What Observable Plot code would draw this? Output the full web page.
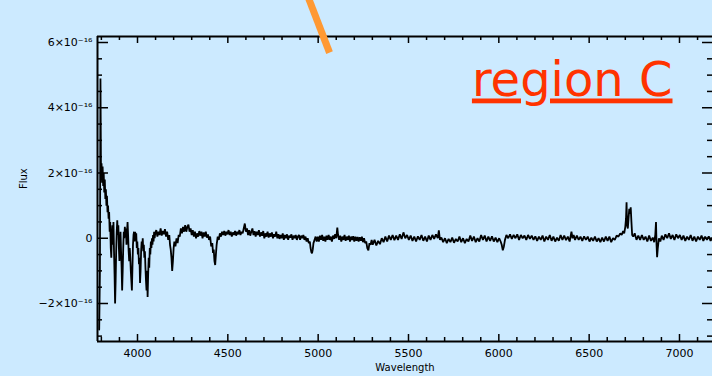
<!DOCTYPE html>
<html><head><meta charset="utf-8">
<script src="https://cdn.jsdelivr.net/npm/d3@7"></script>
<script src="https://cdn.jsdelivr.net/npm/@observablehq/plot@0.6"></script>
<style>
html,body{margin:0;padding:0;background:#cceaff;overflow:hidden;}
#chart{width:712px;height:376px;}
svg{display:block;}
</style></head><body><div id="chart"></div>
<script>
// Spectrum: [wavelength (Å), flux in units of 1e-16]
const blueEnd = [[3788,-2.8],[3792,-1.0],[3795,4.9],[3798,2.0],[3801,2.3],[3804,1.7],[3807,2.2],[3810,1.6],[3813,2.0],[3816,1.4],[3819,1.8],[3822,1.2],[3825,1.5],[3828,1.0],[3831,1.3],[3834,0.8],[3837,1.0],[3840,0.6],[3843,0.8],[3846,0.2],[3849,0.5],[3852,-0.3],[3855,-0.6],[3858,0.1],[3861,0.4],[3864,-0.2],[3867,0.5],[3870,-0.4],[3873,-1.1],[3876,-2.0],[3879,-1.3],[3882,-0.4],[3885,0.2],[3888,0.55],[3891,0.1],[3894,0.4],[3897,-0.3],[3900,-0.7],[3903,-0.2],[3906,0.2],[3909,-0.4],[3912,-0.9],[3915,-1.6],[3918,-1.0],[3921,-0.3],[3924,0.2],[3927,0.0],[3930,0.35],[3933,0.1],[3936,0.3],[3939,-0.2],[3942,0.2],[3945,0.5],[3948,0.1],[3951,-0.4],[3954,-0.7],[3957,-0.3],[3960,-0.6],[3963,-1.0],[3966,-1.3],[3969,-1.6],[3972,-0.9],[3975,-0.2],[3978,0.1],[3981,0.2],[3984,-0.1],[3987,0.2],[3990,0.0],[3993,0.15],[3996,-0.3],[3999,-0.1],[4002,-0.5],[4005,-0.3],[4008,-0.8],[4011,-0.6],[4014,-1.37],[4017,-1.0],[4020,-0.4],[4023,-0.1],[4026,-0.3],[4029,0.0],[4032,-0.4],[4035,-0.2],[4038,-0.6],[4041,-0.4],[4044,-0.9],[4047,-1.3],[4050,-1.6],[4053,-1.0],[4056,-1.8],[4059,-1.1],[4062,-0.6],[4065,-0.9],[4068,-0.3],[4071,-0.5],[4074,-0.1],[4077,-0.3],[4080,0.0],[4083,-0.2],[4086,0.1],[4089,-0.1],[4092,0.2],[4095,0.0],[4098,0.15]];
const midRange = [[4104,0.25],[4110,0.05],[4116,0.2],[4122,0.1],[4128,0.3],[4134,0.08],[4140,0.22],[4146,0.12],[4152,0.28],[4158,0.05],[4164,0.2],[4170,-0.05],[4176,0.1],[4180,-0.2],[4184,-0.35],[4188,-0.6],[4192,-1.0],[4196,-0.7],[4200,-0.3],[4204,-0.1],[4210,-0.25],[4216,0.0],[4222,-0.15],[4228,0.1],[4234,0.05],[4240,0.3],[4246,0.15],[4252,0.35],[4258,0.2],[4264,0.4],[4270,0.2],[4276,0.35],[4282,0.42],[4288,0.2],[4294,0.3],[4300,0.1],[4306,0.25],[4312,0.05],[4318,0.2],[4324,0.0],[4330,0.15],[4336,0.05],[4342,0.22],[4348,0.08],[4354,0.2],[4360,0.0],[4366,0.18],[4372,0.05],[4378,0.2],[4384,0.02],[4390,0.12],[4396,-0.05],[4402,0.05],[4408,-0.25],[4414,-0.15],[4418,-0.45],[4422,-0.35],[4426,-0.7],[4430,-0.82],[4434,-0.5],[4438,-0.2],[4444,0.05],[4450,-0.05],[4456,0.15],[4462,0.05],[4468,0.2],[4474,0.1],[4480,0.22],[4486,0.08],[4492,0.2],[4498,0.12],[4504,0.25],[4510,0.1],[4516,0.2],[4522,0.05],[4528,0.18],[4534,0.1],[4540,0.22],[4546,0.08],[4552,0.2],[4558,0.12],[4564,0.25],[4570,0.1],[4576,0.2],[4582,0.15],[4588,0.3],[4594,0.45],[4600,0.2],[4606,0.3],[4612,0.1],[4618,0.25],[4624,0.08],[4630,0.2],[4636,0.3],[4642,0.1],[4648,0.22],[4654,0.05],[4660,0.2],[4666,0.1],[4672,0.25],[4678,0.05],[4684,0.18],[4690,0.08],[4696,0.22],[4702,0.0],[4708,0.15],[4714,0.05],[4720,0.2],[4726,0.02],[4732,0.15],[4738,0.05],[4744,0.18],[4750,0.0],[4756,0.12],[4762,0.05],[4768,0.2],[4774,0.0],[4780,0.12],[4786,-0.02],[4792,0.1],[4798,0.0],[4804,0.15],[4810,-0.05],[4816,0.1],[4822,0.0],[4828,0.12],[4834,-0.05],[4840,0.08],[4846,0.02],[4852,0.12],[4858,-0.05],[4864,0.08],[4870,0.0],[4876,0.1],[4882,-0.05],[4888,0.05],[4894,0.1],[4900,-0.05],[4906,0.08],[4912,0.0],[4918,0.1],[4924,-0.05],[4930,0.05],[4936,-0.1],[4942,0.0],[4948,-0.15],[4954,-0.1],[4958,-0.3],[4962,-0.42],[4966,-0.46],[4970,-0.35],[4974,-0.15],[4980,-0.05],[4986,0.05],[4992,-0.1],[4998,0.05],[5004,-0.1],[5010,0.08],[5016,-0.05],[5022,0.1],[5028,-0.08],[5034,0.05],[5040,-0.1],[5046,0.08],[5052,-0.05],[5058,0.1],[5064,-0.05],[5070,0.05],[5076,-0.1],[5082,0.08],[5088,-0.02],[5094,0.12],[5100,0.0],[5106,0.33],[5110,0.1],[5116,-0.05],[5122,0.08],[5128,-0.1],[5134,0.05],[5140,-0.05],[5146,0.1],[5152,-0.08],[5158,0.05],[5164,-0.05],[5170,0.08],[5176,-0.1],[5182,0.05],[5188,-0.05],[5194,0.06],[5200,-0.1],[5206,0.05],[5212,-0.08],[5218,0.04],[5224,-0.1],[5230,0.03],[5236,-0.08],[5242,0.05],[5248,-0.12],[5254,0.0],[5260,-0.15],[5266,-0.1],[5272,-0.3],[5278,-0.37],[5284,-0.15],[5290,-0.2],[5296,-0.05]];
const redEnd = [[5302,-0.2],[5312,-0.05],[5322,-0.22],[5332,-0.08],[5342,-0.18],[5352,0.0],[5362,-0.12],[5372,0.05],[5382,-0.1],[5392,0.08],[5402,-0.05],[5412,0.1],[5422,-0.06],[5432,0.08],[5442,-0.05],[5452,0.12],[5462,-0.02],[5472,0.18],[5482,0.0],[5492,0.1],[5502,-0.05],[5512,0.08],[5522,-0.08],[5532,0.05],[5542,-0.1],[5552,0.06],[5562,-0.05],[5572,0.1],[5582,-0.08],[5592,0.05],[5602,-0.1],[5612,0.08],[5622,-0.05],[5632,0.1],[5642,-0.02],[5652,0.12],[5662,0.0],[5668,0.24],[5674,-0.05],[5682,0.02],[5692,-0.12],[5702,0.0],[5712,-0.15],[5722,-0.02],[5732,-0.12],[5742,0.02],[5752,-0.14],[5762,-0.02],[5772,-0.1],[5782,0.05],[5792,-0.12],[5802,0.0],[5812,-0.15],[5822,-0.02],[5832,-0.1],[5842,0.08],[5852,-0.08],[5862,0.05],[5872,-0.12],[5882,0.0],[5892,-0.1],[5902,0.1],[5912,-0.05],[5922,0.08],[5932,-0.1],[5942,0.05],[5952,-0.08],[5962,0.06],[5972,-0.1],[5982,0.02],[5992,-0.12],[6002,0.0],[6010,-0.1],[6016,-0.2],[6022,-0.37],[6028,-0.25],[6034,-0.05],[6042,0.1],[6052,0.0],[6062,0.12],[6072,-0.02],[6082,0.1],[6092,0.0],[6102,0.12],[6112,-0.05],[6122,0.1],[6132,0.0],[6142,0.08],[6152,-0.05],[6162,0.1],[6172,-0.02],[6182,0.08],[6192,-0.05],[6202,0.06],[6212,-0.08],[6222,0.05],[6232,-0.05],[6242,0.08],[6252,-0.1],[6262,0.05],[6272,-0.05],[6282,0.1],[6292,-0.08],[6302,0.05],[6312,-0.1],[6322,0.02],[6332,-0.08],[6342,0.1],[6352,-0.05],[6362,0.08],[6372,-0.06],[6382,0.05],[6392,-0.1],[6402,0.2],[6408,0.0],[6414,0.1],[6422,-0.05],[6432,0.08],[6442,-0.05],[6452,0.05],[6462,-0.08],[6472,0.06],[6482,-0.05],[6492,0.05],[6502,-0.1],[6512,0.02],[6522,-0.08],[6532,0.05],[6542,-0.1],[6552,0.0],[6562,-0.12],[6572,0.02],[6582,-0.1],[6592,0.05],[6602,-0.08],[6612,0.05],[6622,-0.12],[6632,0.0],[6642,-0.05],[6652,0.08],[6662,0.05],[6672,0.15],[6680,0.1],[6688,0.22],[6694,0.15],[6700,0.35],[6704,0.6],[6707,1.1],[6710,0.4],[6714,0.3],[6718,0.6],[6722,0.9],[6726,0.75],[6730,0.95],[6734,0.5],[6738,0.1],[6744,0.05],[6752,0.15],[6762,-0.05],[6772,0.08],[6782,-0.05],[6792,0.1],[6802,-0.05],[6812,0.05],[6822,-0.1],[6832,0.08],[6842,-0.08],[6852,0.02],[6860,-0.12],[6866,0.1],[6870,0.5],[6873,-0.2],[6876,-0.58],[6880,-0.3],[6886,0.0],[6894,-0.1],[6902,0.08],[6912,-0.05],[6922,0.12],[6932,0.0],[6942,0.15],[6952,-0.02],[6962,0.1],[6972,-0.05],[6982,0.12],[6992,0.0],[7002,0.1],[7012,-0.05],[7022,0.08],[7032,-0.08],[7042,0.05],[7052,-0.05],[7062,0.1],[7072,-0.08],[7082,0.05],[7092,-0.1],[7102,0.05],[7112,-0.05],[7122,0.08],[7132,-0.08],[7142,0.05],[7152,-0.05],[7162,0.06],[7172,-0.08],[7182,0.02],[7190,-0.05]];

const xMajorTicks = [4000,4500,5000,5500,6000,6500,7000];
const xTickLabels = ["4000","4500","5000","5500","6000","6500","7000"];
const xMinorTicks = [3800,3900,4100,4200,4300,4400,4600,4700,4800,4900,5100,5200,5300,5400,5600,5700,5800,5900,6100,6200,6300,6400,6600,6700,6800,6900,7100];
const yMajorTicks = [-2,0,2,4,6];
const yTickLabels = ["\u22122\u00d710\u207b\u00b9\u2076","0","2\u00d710\u207b\u00b9\u2076","4\u00d710\u207b\u00b9\u2076","6\u00d710\u207b\u00b9\u2076"];
const yMinorTicks = [-3,-2.5,-1.5,-1,-0.5,0.5,1,1.5,2.5,3,3.5,4.5,5,5.5];
const xLabel = "Wavelength";
const yLabel = "Flux";
const annotation = ["region C"];
const pointer = [{x1:4930, y1:7.6, x2:5063, y2:5.69}];

const xDomain = [3778.6, 7182.7];
const yDomain = [-3.165, 6.184];

const W = 712, H = 376, mL = 97, mR = 0, mT = 36, mB = 35;
const fw = W - mL - mR, fh = H - mT - mB;
const font = "DejaVu Sans";

const spectrum = [...blueEnd, ...midRange, ...redEnd].map(([w, f]) => ({w, f}));

const chart = Plot.plot({
  width: W, height: H,
  marginLeft: mL, marginRight: mR, marginTop: mT, marginBottom: mB,
  style: {background: "transparent", overflow: "visible"},
  x: {domain: xDomain, axis: null},
  y: {domain: yDomain, axis: null},
  marks: [
    Plot.line(spectrum, {x: "w", y: "f", stroke: "#000", strokeWidth: 1.8, strokeLinejoin: "miter"}),
    // frame (left, bottom, top)
    Plot.ruleY([yDomain[0]], {stroke: "#000", strokeWidth: 2}),
    Plot.ruleY([yDomain[1]], {stroke: "#000", strokeWidth: 2}),
    Plot.ruleX([xDomain[0]], {stroke: "#000", strokeWidth: 2}),
    // bottom ticks
    Plot.ruleX(xMajorTicks, {x: d => d, insetTop: fh - 7, strokeWidth: 1.5}),
    Plot.ruleX(xMinorTicks, {x: d => d, insetTop: fh - 4, strokeWidth: 1.5}),
    // top ticks
    Plot.ruleX(xMajorTicks, {x: d => d, insetBottom: fh - 7, strokeWidth: 1.5}),
    Plot.ruleX(xMinorTicks, {x: d => d, insetBottom: fh - 4, strokeWidth: 1.5}),
    // left ticks
    Plot.ruleY(yMajorTicks, {y: d => d, insetRight: fw - 11, strokeWidth: 1.5}),
    Plot.ruleY(yMinorTicks, {y: d => d, insetRight: fw - 5, strokeWidth: 1.5}),
    // right ticks
    Plot.ruleY(yMajorTicks, {y: d => d, insetLeft: fw - 10, strokeWidth: 1.5}),
    Plot.ruleY(yMinorTicks, {y: d => d, insetLeft: fw - 5, strokeWidth: 1.5}),
    // tick labels
    Plot.text(xMajorTicks, {x: d => d, text: (d, i) => xTickLabels[i], frameAnchor: "bottom", dy: 15, fontSize: 11, fontFamily: font, fill: "#000"}),
    Plot.text(yMajorTicks, {y: d => d, text: (d, i) => yTickLabels[i], frameAnchor: "left", dx: -5, textAnchor: "end", fontSize: 11, fontFamily: font, fill: "#000"}),
    // axis titles
    Plot.text([xLabel], {frameAnchor: "bottom", dy: 29, fontSize: 10, fontFamily: font, fill: "#000"}),
    Plot.text([yLabel], {frameAnchor: "left", dx: -74, rotate: -90, fontSize: 10, fontFamily: font, fill: "#000"}),
    // annotation
    Plot.text(annotation, {frameAnchor: "top-right", dx: -40, dy: 59, lineAnchor: "bottom", textAnchor: "end", fontSize: 48, fontFamily: font, fill: "#ff3300", className: "region-label"}),
    Plot.link(pointer, {x1: "x1", y1: "y1", x2: "x2", y2: "y2", stroke: "#ff9933", strokeWidth: 7, strokeLinecap: "butt"})
  ]
});
d3.select(chart).selectAll(".region-label text").style("text-decoration", "underline");
document.getElementById("chart").appendChild(chart);
</script></body></html>
